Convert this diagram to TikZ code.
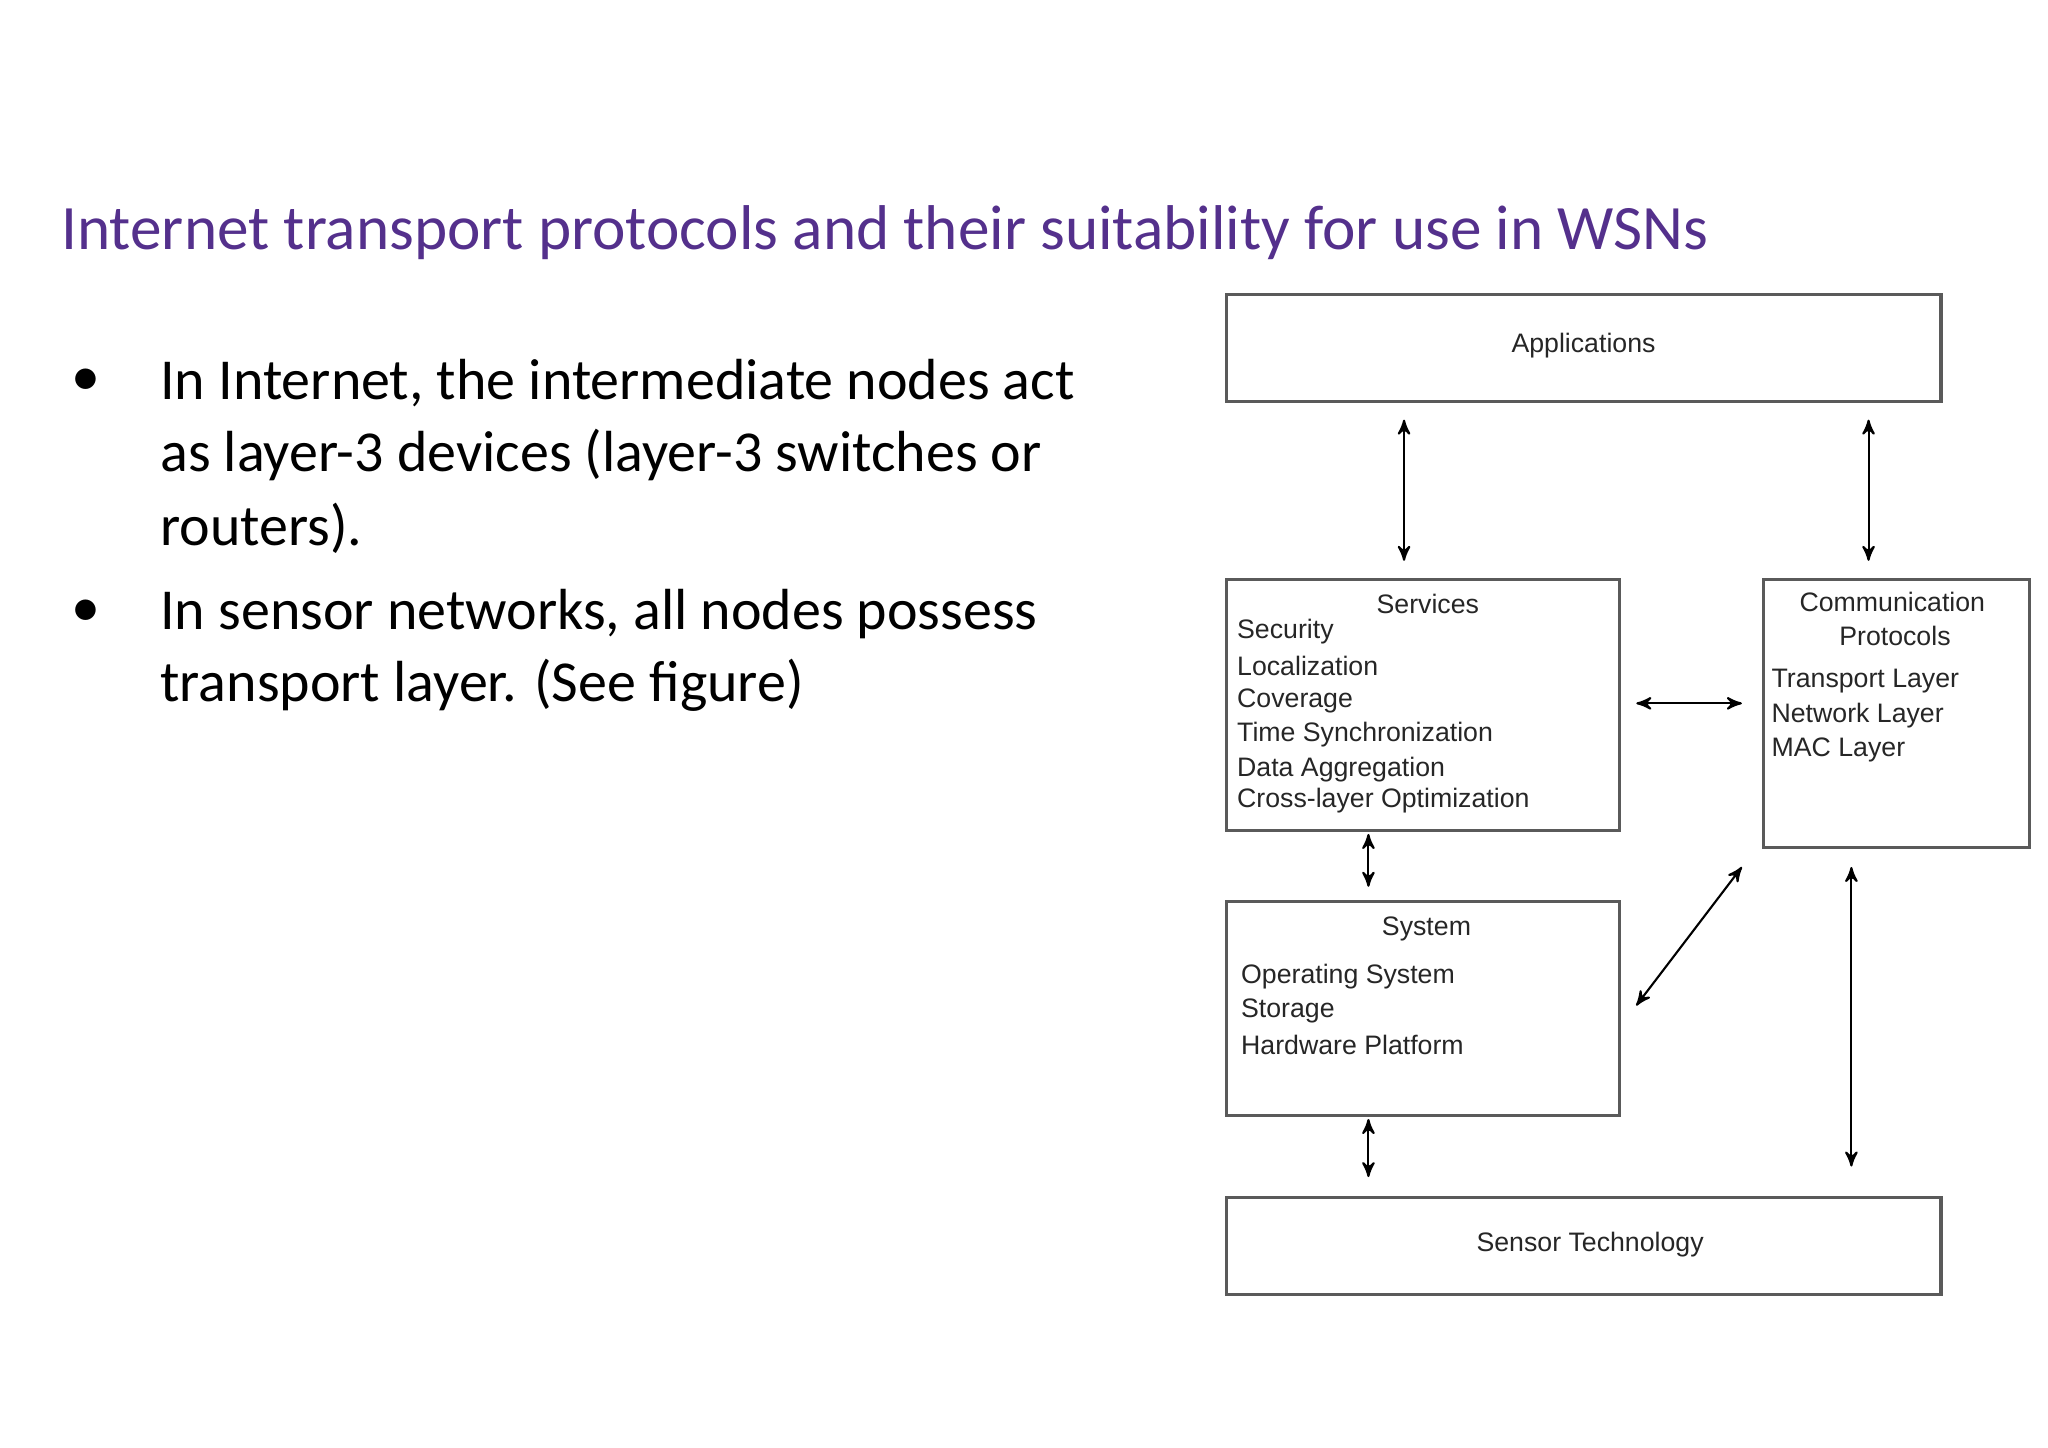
\documentclass[tikz,border=0pt]{standalone}
\usepackage{fontspec}
\setmainfont{Carlito}
\newfontfamily\diagfont{Liberation Sans}
\usetikzlibrary{arrows}
\definecolor{titlepurple}{RGB}{84,48,140}
\definecolor{boxgray}{RGB}{90,90,90}
\tikzset{
  layer/.style={draw=boxgray,line width=0.9pt,anchor=north west,inner sep=0pt},
  lbl/.style={font=\diagfont\fontsize{7.6}{9}\selectfont,text=black!85,inner sep=0pt},
  item/.style={lbl,anchor=west},
  bullet/.style={font=\fontsize{16.5}{20}\selectfont,anchor=west,inner sep=0pt},
  link/.style={<->,>=stealth',line width=0.6pt}
}
\begin{document}
\begin{tikzpicture}[x=0.013196cm,y=-0.013196cm]
\useasboundingbox (0,0) rectangle (1552,1097);
% title and bullets
\node[anchor=west,inner sep=0pt,text=titlepurple,font=\fontsize{18}{22}\selectfont](title)at(46,176){Internet transport protocols and their suitability for use in WSNs};
\node[bullet](b1)at(54,290){\textbullet};
\node[bullet](t1)at(121,290){In Internet, the intermediate nodes act};
\node[bullet](t2)at(121,345){as layer-3 devices (layer-3 switches or};
\node[bullet](t3)at(121,400){routers).};
\node[bullet](b2)at(54,465){\textbullet};
\node[bullet](t4)at(121,465){In sensor networks, all nodes possess};
\node[bullet](t5)at(121,519){transport layer. (See figure)};
% boxes
\node[layer,minimum width=542\pgflinewidth*0+7.15cm,minimum height=1.069cm](app)at(928,222){};
\node[lbl](appT)at(1200,262){Applications};
\node[layer,minimum width=3.932cm,minimum height=2.507cm](serv)at(928,438){};
\node[lbl](servT)at(1082,458){Services};
\node[item](s1)at(937,479){Security};
\node[item](s2)at(937,505){Localization};
\node[item](s3)at(937,531){Coverage};
\node[item](s4)at(937,557){Time Synchronization};
\node[item](s5)at(937,583){Data Aggregation};
\node[item](s6)at(937,607){Cross-layer Optimization};
\node[layer,minimum width=2.666cm,minimum height=2.679cm](comm)at(1335,438){};
\node[lbl](commT)at(1434,456){Communication};
\node[lbl](commT2)at(1436,482){Protocols};
\node[item](c1)at(1342,516){Transport Layer};
\node[item](c2)at(1342,542){Network Layer};
\node[item](c3)at(1342,568){MAC Layer};
\node[layer,minimum width=3.932cm,minimum height=2.138cm](sys)at(928,682){};
\node[lbl](sysT)at(1081,704){System};
\node[item](y1)at(940,740){Operating System};
\node[item](y2)at(940,766){Storage};
\node[item](y3)at(940,792){Hardware Platform};
\node[layer,minimum width=7.15cm,minimum height=0.977cm](sens)at(928,906){};
\node[lbl](sensT)at(1205,943){Sensor Technology};
% connectors
\coordinate(a1)at(1064,318); \coordinate(a2)at(1064,425);
\coordinate(a3)at(1416,318); \coordinate(a4)at(1416,425);
\coordinate(a5)at(1240,533); \coordinate(a6)at(1320,533);
\coordinate(a7)at(1037,632); \coordinate(a8)at(1037,672);
\coordinate(a9)at(1240,762); \coordinate(a10)at(1320,657);
\coordinate(a11)at(1037,848); \coordinate(a12)at(1037,892);
\coordinate(a13)at(1403,657); \coordinate(a14)at(1403,884);
\draw[link](a1)--(a2);
\draw[link](a3)--(a4);
\draw[link](a5)--(a6);
\draw[link](a7)--(a8);
\draw[link](a9)--(a10);
\draw[link](a11)--(a12);
\draw[link](a13)--(a14);
\end{tikzpicture}
\end{document}
